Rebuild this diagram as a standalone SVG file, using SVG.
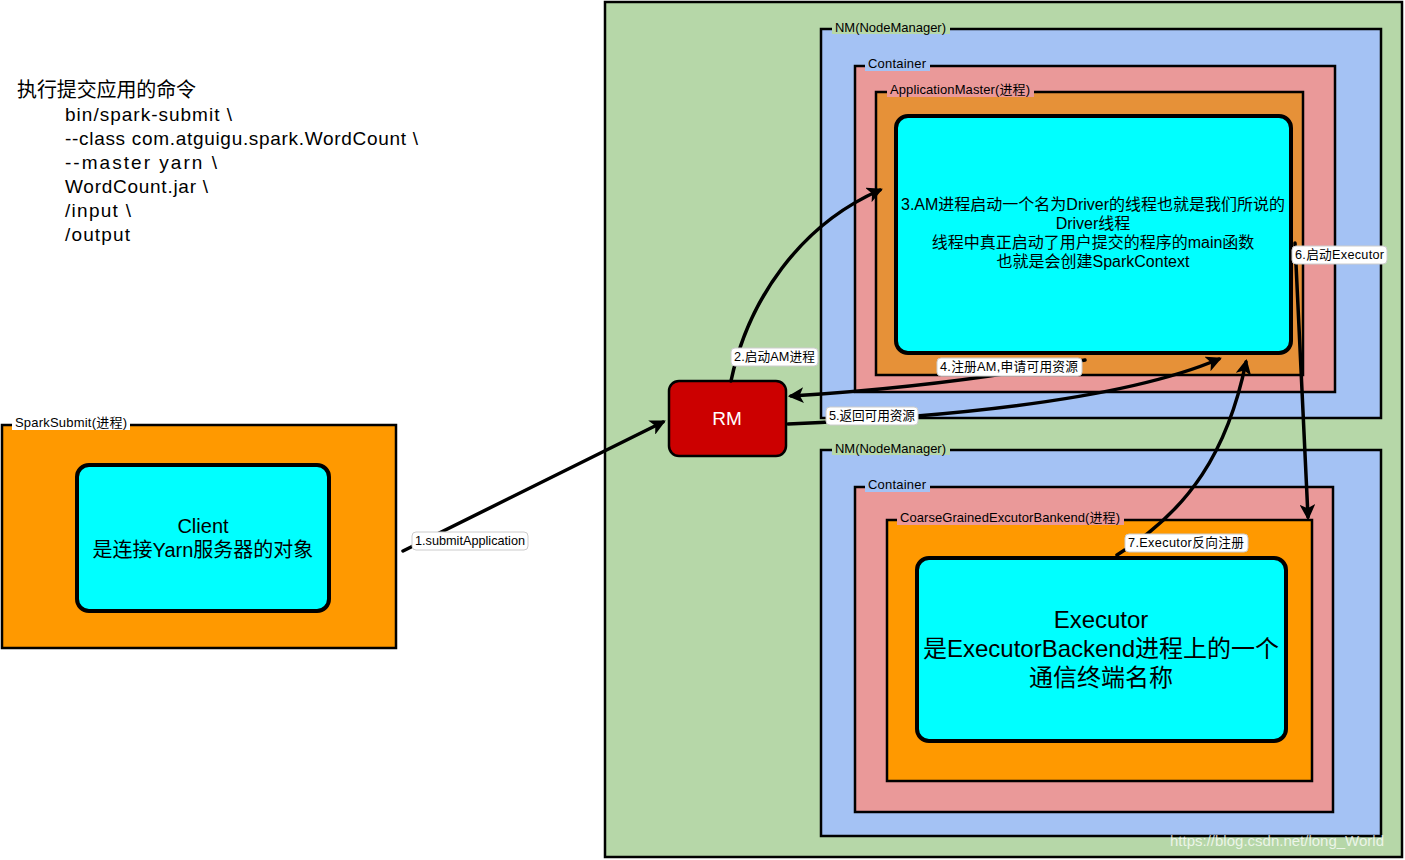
<svg xmlns="http://www.w3.org/2000/svg" width="1405" height="860" viewBox="0 0 1405 860">
<defs>
<style>
.box{stroke:#000;stroke-width:2.5}
.inner{fill:#00ffff;stroke:#000;stroke-width:4}
.t{font-family:"Liberation Sans","Noto Sans CJK SC",sans-serif;fill:#000}
.lbl{font-size:13px}
.cap{fill:#fff;stroke:#ccc;stroke-width:1}
.cn{font-size:12.7px}
.cmd{font-size:19px}
.conn{fill:none;stroke:#000;stroke-width:3.5;stroke-linecap:round}
</style>
<marker id="ah" viewBox="0 0 10 10" refX="8" refY="5" markerWidth="4.5" markerHeight="4.5" orient="auto" markerUnits="strokeWidth">
<path d="M0,0 L10,5 L0,10 L2.5,5 z" fill="#000"/>
</marker>
</defs>
<rect width="1405" height="860" fill="#fff"/>

<g id="command">
<text class="t" x="17" y="97" font-size="20" textLength="179" font-family="'Noto Sans CJK SC',serif">执行提交应用的命令</text>
<text class="t cmd" x="65" y="121" textLength="167">bin/spark-submit \</text>
<text class="t cmd" x="65" y="145" textLength="353">--class com.atguigu.spark.WordCount \</text>
<text class="t cmd" x="65" y="169" textLength="152">--master yarn \</text>
<text class="t cmd" x="65" y="193" textLength="143">WordCount.jar \</text>
<text class="t cmd" x="65" y="217" textLength="66">/input \</text>
<text class="t cmd" x="65" y="241" textLength="65">/output</text>
</g>

<g id="cluster">
<rect class="box" x="605" y="2" width="797" height="855" fill="#b6d7a8"/>
</g>

<g id="nm1">
<rect class="box" x="821" y="29" width="560" height="389" fill="#a4c2f4"/>
<rect x="832" y="20" width="118" height="14" fill="#b6d7a8"/>
<text class="t lbl" x="835" y="32" textLength="111">NM(NodeManager)</text>
</g>
<g id="container1">
<rect class="box" x="855" y="66" width="480" height="326" fill="#ea9999"/>
<rect x="865" y="57" width="65" height="14" fill="#a4c2f4"/>
<text class="t lbl" x="868" y="68" textLength="58">Container</text>
</g>
<g id="am">
<rect class="box" x="876" y="92" width="427" height="283" fill="#e69138"/>
<rect x="887" y="83" width="147" height="14" fill="#ea9999"/>
<text class="t lbl" x="890" y="94" textLength="140">ApplicationMaster(进程)</text>
</g>
<g id="driver">
<rect class="inner" x="896" y="116" width="395" height="237" rx="12"/>
<text class="t" font-size="16" text-anchor="middle" x="1093" y="210">3.AM进程启动一个名为Driver的线程也就是我们所说的</text>
<text class="t" font-size="16" text-anchor="middle" x="1093" y="229">Driver线程</text>
<text class="t" font-size="16" text-anchor="middle" x="1093" y="248">线程中真正启动了用户提交的程序的main函数</text>
<text class="t" font-size="16" text-anchor="middle" x="1093" y="267">也就是会创建SparkContext</text>
</g>

<g id="nm2">
<rect class="box" x="821" y="450" width="560" height="386" fill="#a4c2f4"/>
<rect x="832" y="441" width="118" height="14" fill="#b6d7a8"/>
<text class="t lbl" x="835" y="453" textLength="111">NM(NodeManager)</text>
</g>
<g id="container2">
<rect class="box" x="855" y="487" width="478" height="325" fill="#ea9999"/>
<rect x="865" y="478" width="65" height="14" fill="#a4c2f4"/>
<text class="t lbl" x="868" y="489" textLength="58">Container</text>
</g>
<g id="backend">
<rect class="box" x="887" y="520" width="425" height="261" fill="#ff9900"/>
<rect x="897" y="511" width="227" height="14" fill="#ea9999"/>
<text class="t lbl" x="900" y="522" textLength="220">CoarseGrainedExcutorBankend(进程)</text>
</g>
<g id="executor">
<rect class="inner" x="917" y="558" width="369" height="183" rx="12"/>
<text class="t" font-size="24" text-anchor="middle" x="1101" y="628">Executor</text>
<text class="t" font-size="24" text-anchor="middle" x="1101" y="657">是ExecutorBackend进程上的一个</text>
<text class="t" font-size="24" text-anchor="middle" x="1101" y="686">通信终端名称</text>
</g>

<g id="rm">
<rect x="669" y="381" width="117" height="75" rx="10" fill="#cc0000" stroke="#000" stroke-width="2.5"/>
<text class="t" font-size="19" style="fill:#fff" text-anchor="middle" x="727" y="425">RM</text>
</g>

<g id="sparksubmit">
<rect class="box" x="2" y="425" width="394" height="223" fill="#ff9900"/>
<rect x="12" y="416" width="118" height="14" fill="#fff"/>
<text class="t lbl" x="15" y="427" textLength="112">SparkSubmit(进程)</text>
</g>
<g id="client">
<rect class="inner" x="77" y="465" width="252" height="146" rx="12"/>
<text class="t" font-size="20" text-anchor="middle" x="203" y="533">Client</text>
<text class="t" font-size="20" text-anchor="middle" x="203" y="557">是连接Yarn服务器的对象</text>
</g>

<g id="connectors">
<path class="conn" d="M403,551 L663,422" marker-end="url(#ah)"/>
<path class="conn" d="M731,381 C748,300 800,225 880,190" marker-end="url(#ah)"/>
<path class="conn" d="M1085,360 Q950,386 791,396" marker-end="url(#ah)"/>
<path class="conn" d="M788,424 Q1100,410 1219,359" marker-end="url(#ah)"/>
<path class="conn" d="M1295,243 L1308,517" marker-end="url(#ah)"/>
<path class="conn" d="M1117,555 C1190,510 1228,450 1246,362" marker-end="url(#ah)"/>

<rect class="cap" x="412" y="532" width="116" height="18" rx="4"/>
<text class="t cn" x="415" y="545" textLength="110">1.submitApplication</text>
<rect class="cap" x="731" y="348" width="87" height="18" rx="4"/>
<text class="t cn" x="734" y="361" textLength="81">2.启动AM进程</text>
<rect class="cap" x="937" y="358" width="145" height="18" rx="4"/>
<text class="t cn" x="940" y="371" textLength="138">4.注册AM,申请可用资源</text>
<rect class="cap" x="826" y="407" width="92" height="18" rx="4"/>
<text class="t cn" x="829" y="420" textLength="86">5.返回可用资源</text>
<rect class="cap" x="1292" y="246" width="95" height="18" rx="4"/>
<text class="t cn" x="1295" y="259" textLength="89">6.启动Executor</text>
<rect class="cap" x="1125" y="534" width="123" height="18" rx="4"/>
<text class="t cn" x="1128" y="547" textLength="116">7.Executor反向注册</text>
</g>

<text x="1170" y="846" font-family="'Liberation Sans',sans-serif" font-size="15" fill="#fff" fill-opacity="0.75">https://blog.csdn.net/long_World</text>
</svg>
